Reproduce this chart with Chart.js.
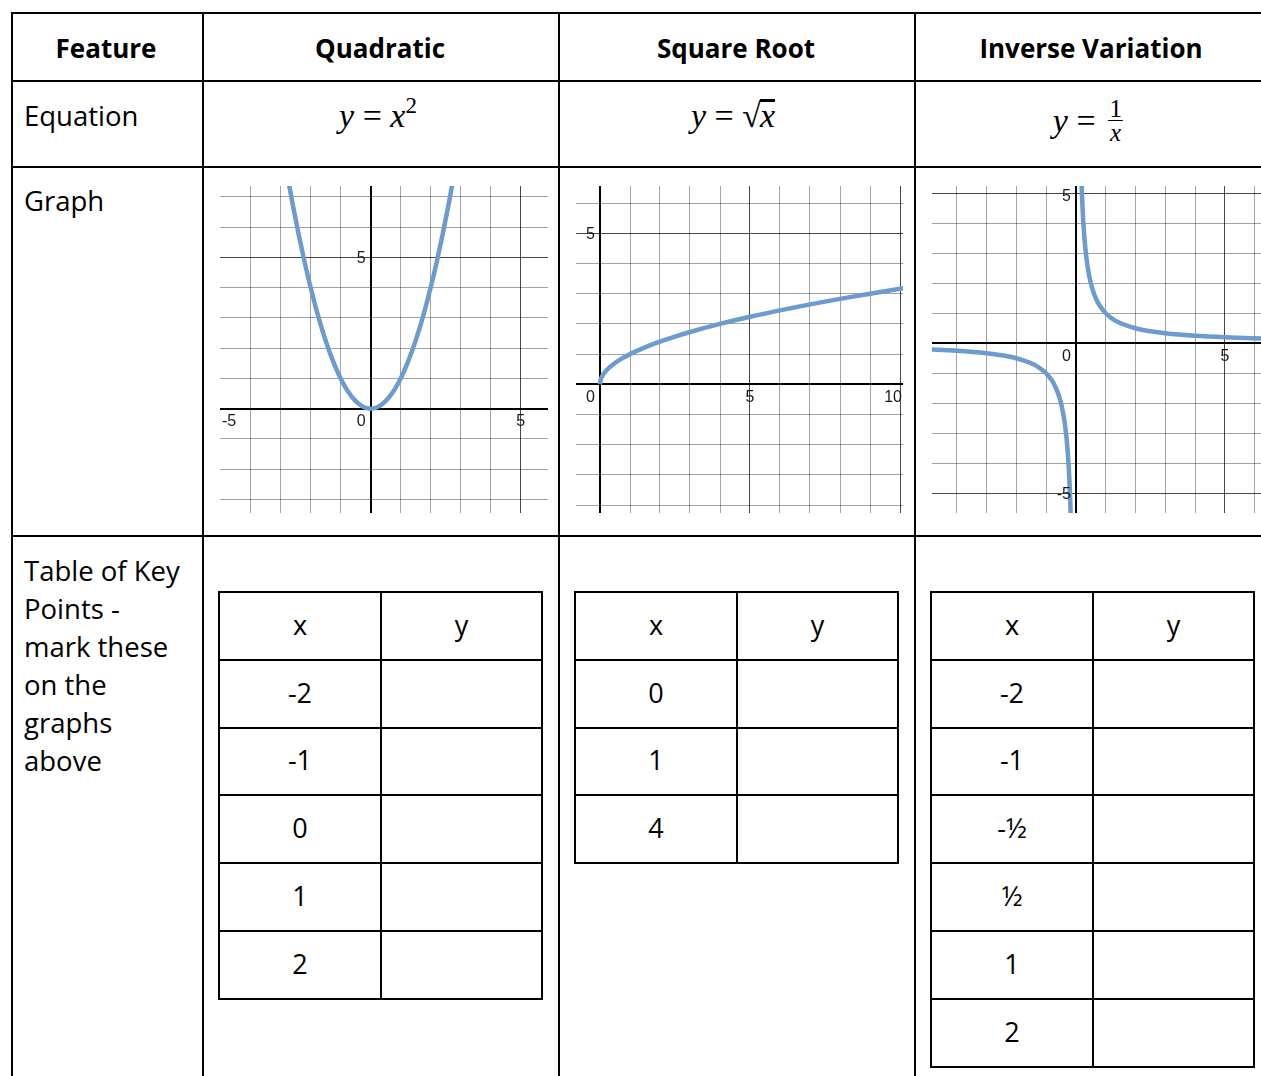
<!DOCTYPE html>
<html><head><meta charset="utf-8">
<script src="https://cdn.jsdelivr.net/npm/chart.js@4.4.1/dist/chart.umd.min.js"></script>
<style>
html,body{margin:0;padding:0;background:#fff}
body{width:1261px;height:1076px;overflow:hidden;position:relative;font-family:"Open Sans",sans-serif;font-size:27.5px;color:#000}
.ln{position:absolute;background:#000}
.txt{position:absolute;white-space:nowrap;line-height:38px}
.hdr{font-weight:bold;font-size:26px;transform:translateX(-50%)}
.eq{position:absolute;font-family:"Liberation Serif","Times New Roman",serif;font-size:34px;white-space:nowrap;line-height:34px;transform:translateX(-50%)}
.cell{position:absolute;display:flex;align-items:center;justify-content:center;line-height:38px;font-size:27px}
canvas{position:absolute}
</style></head><body>
<script>
// ---------- data ----------
const columnTitles = ["Feature", "Quadratic", "Square Root", "Inverse Variation"];
const rowTitles = ["Equation", "Graph"];
const keyRowTitleLines = ["Table of Key", "Points -", "mark these", "on the", "graphs", "above"];
const keyHeader = ["x", "y"];
const quadKeyX = ["-2", "-1", "0", "1", "2"];
const sqrtKeyX = ["0", "1", "4"];
const invKeyX = ["-2", "-1", "-½", "½", "1", "2"];

// curve values
const quadX = [-2.8, -2.6, -2.4, -2.2, -2, -1.8, -1.6, -1.4, -1.2, -1, -0.8, -0.6, -0.4, -0.2, 0, 0.2, 0.4, 0.6, 0.8, 1, 1.2, 1.4, 1.6, 1.8, 2, 2.2, 2.4, 2.6, 2.8];
const quadY = [7.84, 6.76, 5.76, 4.84, 4, 3.24, 2.56, 1.96, 1.44, 1, 0.64, 0.36, 0.16, 0.04, 0, 0.04, 0.16, 0.36, 0.64, 1, 1.44, 1.96, 2.56, 3.24, 4, 4.84, 5.76, 6.76, 7.84];
const sqrtX = [0, 0.02, 0.06, 0.12, 0.25, 0.5, 0.75, 1, 1.5, 2, 2.5, 3, 4, 5, 6, 7, 8, 9, 10, 10.3];
const sqrtY = [0, 0.141, 0.245, 0.346, 0.5, 0.707, 0.866, 1, 1.225, 1.414, 1.581, 1.732, 2, 2.236, 2.449, 2.646, 2.828, 3, 3.162, 3.209];
const invPosX = [0.15, 0.17, 0.2, 0.25, 0.3, 0.35, 0.4, 0.5, 0.6, 0.7, 0.8, 1, 1.25, 1.5, 2, 2.5, 3, 4, 5, 6, 6.5];
const invPosY = [6.667, 5.882, 5, 4, 3.333, 2.857, 2.5, 2, 1.667, 1.429, 1.25, 1, 0.8, 0.667, 0.5, 0.4, 0.333, 0.25, 0.2, 0.167, 0.154];
const invNegX = [-5, -4, -3, -2.5, -2, -1.5, -1.25, -1, -0.8, -0.7, -0.6, -0.5, -0.4, -0.35, -0.3, -0.25, -0.2, -0.17, -0.15];
const invNegY = [-0.2, -0.25, -0.333, -0.4, -0.5, -0.667, -0.8, -1, -1.25, -1.429, -1.667, -2, -2.5, -2.857, -3.333, -4, -5, -5.882, -6.667];

// grid ticks and labelled values
const quadXTicks = [-4, -3, -2, -1, 0, 1, 2, 3, 4, 5];
const quadYTicks = [-3, -2, -1, 0, 1, 2, 3, 4, 5, 6, 7];
const quadXLabels = [-5, 5];
const quadYLabels = [5];
const sqrtXTicks = [0, 1, 2, 3, 4, 5, 6, 7, 8, 9, 10];
const sqrtYTicks = [-4, -3, -2, -1, 0, 1, 2, 3, 4, 5, 6];
const sqrtXLabels = [5, 10];
const sqrtYLabels = [5];
const invXTicks = [-4, -3, -2, -1, 0, 1, 2, 3, 4, 5, 6];
const invYTicks = [-5, -4, -3, -2, -1, 0, 1, 2, 3, 4, 5];
const invXLabels = [5];
const invYLabels = [5, -5];

// ---------- layout ----------
const body = document.body;
function el(cls, html, style) {
  const d = document.createElement('div');
  d.className = cls; d.innerHTML = html || '';
  Object.assign(d.style, style || {});
  body.appendChild(d); return d;
}
function hline(x1, x2, yc) { el('ln', '', {left: x1 + 'px', top: (yc - 1) + 'px', width: (x2 - x1) + 'px', height: '2px'}); }
function vline(xc, y1, y2) { el('ln', '', {left: (xc - 1) + 'px', top: y1 + 'px', width: '2px', height: (y2 - y1) + 'px'}); }

const colLines = [12, 203, 559, 915];
const colCenters = [106, 380, 736, 1091];
const rowLines = [13, 81, 167, 536];
rowLines.forEach(y => hline(11, 1261, y));
colLines.forEach(x => vline(x, 12, 1076));

columnTitles.forEach((t, i) => el('txt hdr', t, {left: colCenters[i] + 'px', top: '29px'}));
el('txt', rowTitles[0], {left: '24px', top: '97px'});
el('txt', rowTitles[1], {left: '24px', top: '182px'});
el('txt', keyRowTitleLines.join('<br>'), {left: '24px', top: '552px'});

// equations
el('eq', '<i>y</i> = <i>x</i><span style="font-size:23px;position:relative;top:-14px">2</span>', {left: '378px', top: '99px'});
el('eq', '<i>y</i> = √<span style="border-top:3px solid #000;display:inline-block;line-height:28px;margin-left:-1px"><i>x</i></span>', {left: '733px', top: '99px'});
el('eq', '<span style="display:inline-flex;align-items:center"><span><i>y</i> =&nbsp;</span><span style="display:inline-flex;flex-direction:column;align-items:center;font-size:25px;line-height:23px;margin-left:4px"><span>1</span><span style="border-top:1.5px solid #000;padding:0 2px"><i>x</i></span></span></span>', {left: '1088px', top: '97px'});

// key point tables
function keyTable(xl, xm, xr, values) {
  const top = 592, step = 67.8;
  const n = values.length + 1;
  for (let i = 0; i <= n; i++) hline(xl - 1, xr + 1, top + i * step);
  [xl, xm, xr].forEach(x => vline(x, top - 1, top + n * step + 1));
  const rows = [keyHeader].concat(values.map(v => [v, '']));
  rows.forEach((r, i) => {
    el('cell', r[0], {left: xl + 'px', width: (xm - xl) + 'px', top: (top + i * step - 1) + 'px', height: step + 'px'});
    el('cell', r[1], {left: xm + 'px', width: (xr - xm) + 'px', top: (top + i * step - 1) + 'px', height: step + 'px'});
  });
}
keyTable(219, 381, 542, quadKeyX);
keyTable(575, 737, 898, sqrtKeyX);
keyTable(931, 1093, 1254, invKeyX);

// ---------- graphs ----------
const axisLabels = {
  id: 'axisLabels',
  afterDraw(chart, args, o) {
    const {ctx, chartArea: a, scales: {x, y}} = chart;
    const x0 = x.getPixelForValue(0), y0 = y.getPixelForValue(0);
    ctx.save();
    ctx.font = '16px "Liberation Sans", Arial, sans-serif';
    ctx.fillStyle = '#1a1a1a';
    ctx.textAlign = 'left';
    ctx.textBaseline = 'top';
    o.xLabels.forEach(v => {
      const t = String(v), w = ctx.measureText(t).width;
      let l = x.getPixelForValue(v) - w / 2;
      l = Math.max(a.left + 2, Math.min(a.right - 1 - w, l));
      ctx.fillText(t, l, y0 + 5);
    });
    ctx.textBaseline = 'middle';
    o.yLabels.forEach(v => {
      const t = String(v), w = ctx.measureText(t).width;
      let cy = y.getPixelForValue(v);
      cy = Math.max(a.top + 10, Math.min(a.bottom - 9, cy));
      ctx.fillText(t, x0 - 5 - w, cy + 1);
    });
    ctx.textBaseline = 'top';
    ctx.fillText('0', x0 - 5 - ctx.measureText('0').width, y0 + 5);
    ctx.restore();
  }
};

function pts(xs, ys) { return xs.map((v, i) => ({x: v, y: ys[i]})); }
function gridOpts() {
  return {
    drawTicks: false,
    color: c => c.tick && c.tick.value === 0 ? '#000' : (c.tick && c.tick.value % 5 === 0 ? 'rgba(0,0,0,0.72)' : 'rgba(0,0,0,0.36)'),
    lineWidth: c => c.tick && c.tick.value === 0 ? 2 : 1
  };
}
function graph(box, xr, yr, xt, yt, xl, yl, series) {
  const cv = document.createElement('canvas');
  cv.width = box[2]; cv.height = box[3];
  Object.assign(cv.style, {left: box[0] + 'px', top: box[1] + 'px', width: box[2] + 'px', height: box[3] + 'px'});
  body.appendChild(cv);
  new Chart(cv, {
    type: 'scatter',
    data: {datasets: series.map(s => ({
      data: s, showLine: true, pointRadius: 0, borderColor: '#6b9bcf', borderWidth: 4.5,
      cubicInterpolationMode: 'monotone', fill: false
    }))},
    options: {
      responsive: false, animation: false, devicePixelRatio: 1, events: [],
      layout: {padding: 0},
      plugins: {legend: {display: false}, tooltip: {enabled: false}, axisLabels: {xLabels: xl, yLabels: yl}},
      scales: {
        x: {type: 'linear', min: xr[0], max: xr[1], ticks: {display: false}, border: {display: false}, grid: gridOpts(),
            afterBuildTicks: s => { s.ticks = xt.map(v => ({value: v})); }},
        y: {type: 'linear', min: yr[0], max: yr[1], ticks: {display: false}, border: {display: false}, grid: gridOpts(),
            afterBuildTicks: s => { s.ticks = yt.map(v => ({value: v})); }}
      }
    },
    plugins: [axisLabels]
  });
}
graph([220, 186, 328, 327], [-5.02, 5.91], [-3.445, 7.355], quadXTicks, quadYTicks, quadXLabels, quadYLabels, [pts(quadX, quadY)]);
graph([576, 186, 327, 327], [-0.8, 10.1], [-4.26, 6.566], sqrtXTicks, sqrtYTicks, sqrtXLabels, sqrtYLabels, [pts(sqrtX, sqrtY)]);
graph([932, 186, 329, 327], [-4.83, 6.21], [-5.657, 5.243], invXTicks, invYTicks, invXLabels, invYLabels, [pts(invPosX, invPosY), pts(invNegX, invNegY)]);
</script>
</body></html>
